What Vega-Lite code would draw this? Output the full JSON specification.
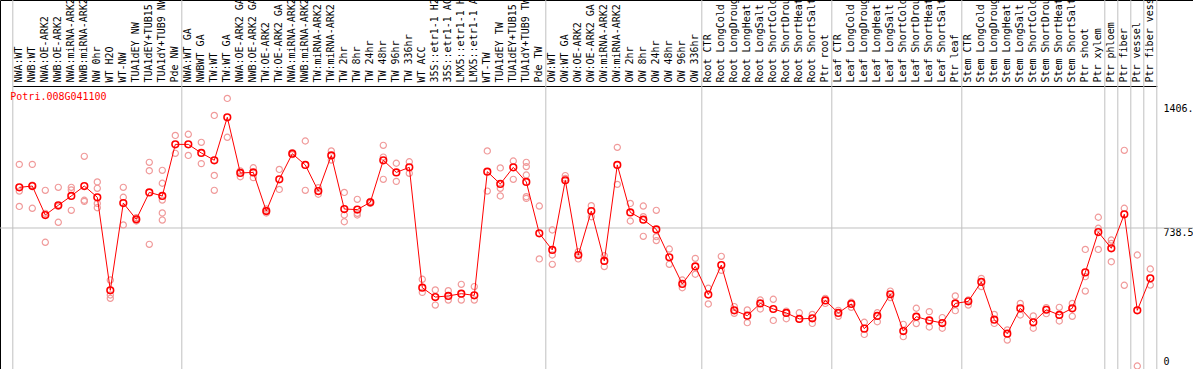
{
  "$schema": "https://vega.github.io/schema/vega-lite/v6.json",
  "width": 1193,
  "height": 369,
  "autosize": {"type": "none"},
  "padding": 0,
  "background": "white",
  "config": {"view": {"stroke": "black", "strokeWidth": 1}, "font": "DejaVu Sans Mono"},
  "datasets": {
    "seps": [
      {"c": "NWA:WT"}, {"c": "NWA:WT GA"}, {"c": "OW:WT"}, {"c": "Root CTR"}, {"c": "Leaf CTR"},
      {"c": "Stem CTR"}, {"c": "Ptr phloem"}, {"c": "Ptr fiber"}, {"c": "Ptr vessel"}, {"c": "Ptr fiber vessel"}
    ],
    "means": [
      {"c": "NWA:WT", "v": 956}, {"c": "NWB:WT", "v": 963}, {"c": "NWA:OE-ARK2", "v": 808}, {"c": "NWB:OE-ARK2", "v": 860},
      {"c": "NWA:miRNA-ARK2", "v": 910}, {"c": "NWB:miRNA-ARK2", "v": 963}, {"c": "NW 0hr", "v": 903}, {"c": "WT H2O", "v": 405},
      {"c": "WT-NW", "v": 872}, {"c": "TUA1dEY NW", "v": 785}, {"c": "TUA1dEY+TUB15 NW", "v": 929}, {"c": "TUA1dY+TUB9 NW", "v": 910},
      {"c": "Pde NW", "v": 1186},
      {"c": "NWA:WT GA", "v": 1186}, {"c": "NWBWT GA", "v": 1140}, {"c": "TW:WT", "v": 1101}, {"c": "TW:WT GA", "v": 1331},
      {"c": "NWA:OE-ARK2 GA", "v": 1033}, {"c": "NWB:OE-ARK2 GA", "v": 1036}, {"c": "TW:OE-ARK2", "v": 829}, {"c": "TW:OE-ARK2 GA", "v": 999},
      {"c": "NWA:miRNA-ARK2 GA", "v": 1136}, {"c": "NWB:miRNA-ARK2 GA", "v": 1076}, {"c": "TW:miRNA-ARK2", "v": 936}, {"c": "TW:miRNA-ARK2 GA", "v": 1127},
      {"c": "TW 2hr", "v": 840}, {"c": "TW 8hr", "v": 837}, {"c": "TW 24hr", "v": 876}, {"c": "TW 48hr", "v": 1101},
      {"c": "TW 96hr", "v": 1036}, {"c": "TW 336hr", "v": 1063}, {"c": "WT ACC", "v": 419}, {"c": "35S::etr1-1 H2O", "v": 369},
      {"c": "35S::etr1-1 ACC", "v": 375}, {"c": "LMX5::etr1-1 H2O", "v": 387}, {"c": "LMX5::etr1-1 ACC", "v": 378}, {"c": "WT-TW", "v": 1040},
      {"c": "TUA1dEY TW", "v": 974}, {"c": "TUA1dEY+TUB15 TW", "v": 1063}, {"c": "TUA1dY+TUB9 TW", "v": 985}, {"c": "Pde TW", "v": 710},
      {"c": "OW:WT", "v": 621}, {"c": "OW:WT GA", "v": 994}, {"c": "OW:OE-ARK2", "v": 594}, {"c": "OW:OE-ARK2 GA", "v": 829},
      {"c": "OW:miRNA-ARK2", "v": 562}, {"c": "OW:miRNA-ARK2 GA", "v": 1076}, {"c": "OW 2hr", "v": 822}, {"c": "OW 8hr", "v": 783},
      {"c": "OW 24hr", "v": 731}, {"c": "OW 48hr", "v": 582}, {"c": "OW 96hr", "v": 439}, {"c": "OW 336hr", "v": 533},
      {"c": "Root CTR", "v": 382}, {"c": "Root LongCold", "v": 540}, {"c": "Root LongDrought", "v": 298}, {"c": "Root LongHeat", "v": 269},
      {"c": "Root LongSalt", "v": 335}, {"c": "Root ShortCold", "v": 305}, {"c": "Root ShortDrought", "v": 284}, {"c": "Root ShortHeat", "v": 252},
      {"c": "Root ShortSalt", "v": 255}, {"c": "Ptr root", "v": 351},
      {"c": "Leaf CTR", "v": 284}, {"c": "Leaf LongCold", "v": 332}, {"c": "Leaf LongDrought", "v": 200}, {"c": "Leaf LongHeat", "v": 268},
      {"c": "Leaf LongSalt", "v": 384}, {"c": "Leaf ShortCold", "v": 187}, {"c": "Leaf ShortDrought", "v": 264}, {"c": "Leaf ShortHeat", "v": 244},
      {"c": "Leaf ShortSalt", "v": 230}, {"c": "Ptr leaf", "v": 335},
      {"c": "Stem CTR", "v": 346}, {"c": "Stem LongCold", "v": 450}, {"c": "Stem LongDrought", "v": 248}, {"c": "Stem LongHeat", "v": 173},
      {"c": "Stem LongSalt", "v": 309}, {"c": "Stem ShortCold", "v": 234}, {"c": "Stem ShortDrought", "v": 301}, {"c": "Stem ShortHeat", "v": 273},
      {"c": "Stem ShortSalt", "v": 309}, {"c": "Ptr shoot", "v": 501}, {"c": "Ptr xylem", "v": 717},
      {"c": "Ptr phloem", "v": 630}, {"c": "Ptr fiber", "v": 812}, {"c": "Ptr vessel", "v": 298}, {"c": "Ptr fiber vessel", "v": 469}
    ],
    "reps": [
      {"c": "NWA:WT", "v": 1079}, {"c": "NWA:WT", "v": 936}, {"c": "NWA:WT", "v": 854},
      {"c": "NWB:WT", "v": 1079}, {"c": "NWB:WT", "v": 967}, {"c": "NWB:WT", "v": 844},
      {"c": "NWA:OE-ARK2", "v": 940}, {"c": "NWA:OE-ARK2", "v": 817}, {"c": "NWA:OE-ARK2", "v": 662},
      {"c": "NWB:OE-ARK2", "v": 956}, {"c": "NWB:OE-ARK2", "v": 854}, {"c": "NWB:OE-ARK2", "v": 769},
      {"c": "NWA:miRNA-ARK2", "v": 956}, {"c": "NWA:miRNA-ARK2", "v": 942}, {"c": "NWA:miRNA-ARK2", "v": 833},
      {"c": "NWB:miRNA-ARK2", "v": 1122}, {"c": "NWB:miRNA-ARK2", "v": 887}, {"c": "NWB:miRNA-ARK2", "v": 881},
      {"c": "NW 0hr", "v": 985}, {"c": "NW 0hr", "v": 951}, {"c": "NW 0hr", "v": 870}, {"c": "NW 0hr", "v": 847},
      {"c": "WT H2O", "v": 460}, {"c": "WT H2O", "v": 380}, {"c": "WT H2O", "v": 362},
      {"c": "WT-NW", "v": 956}, {"c": "WT-NW", "v": 903}, {"c": "WT-NW", "v": 755},
      {"c": "TUA1dEY NW", "v": 794}, {"c": "TUA1dEY NW", "v": 785}, {"c": "TUA1dEY NW", "v": 776},
      {"c": "TUA1dEY+TUB15 NW", "v": 1090}, {"c": "TUA1dEY+TUB15 NW", "v": 1045}, {"c": "TUA1dEY+TUB15 NW", "v": 651},
      {"c": "TUA1dY+TUB9 NW", "v": 1047}, {"c": "TUA1dY+TUB9 NW", "v": 978}, {"c": "TUA1dY+TUB9 NW", "v": 888}, {"c": "TUA1dY+TUB9 NW", "v": 819}, {"c": "TUA1dY+TUB9 NW", "v": 781},
      {"c": "Pde NW", "v": 1234}, {"c": "Pde NW", "v": 1138},
      {"c": "NWA:WT GA", "v": 1240}, {"c": "NWA:WT GA", "v": 1127},
      {"c": "NWBWT GA", "v": 1197}, {"c": "NWBWT GA", "v": 1083},
      {"c": "TW:WT", "v": 1341}, {"c": "TW:WT", "v": 1020}, {"c": "TW:WT", "v": 940},
      {"c": "TW:WT GA", "v": 1432}, {"c": "TW:WT GA", "v": 1224},
      {"c": "NWA:OE-ARK2 GA", "v": 1044}, {"c": "NWA:OE-ARK2 GA", "v": 1013},
      {"c": "NWB:OE-ARK2 GA", "v": 1061}, {"c": "NWB:OE-ARK2 GA", "v": 1008},
      {"c": "TW:OE-ARK2", "v": 840}, {"c": "TW:OE-ARK2", "v": 829}, {"c": "TW:OE-ARK2", "v": 819},
      {"c": "TW:OE-ARK2 GA", "v": 1052}, {"c": "TW:OE-ARK2 GA", "v": 945},
      {"c": "NWA:miRNA-ARK2 GA", "v": 1142}, {"c": "NWA:miRNA-ARK2 GA", "v": 1131},
      {"c": "NWB:miRNA-ARK2 GA", "v": 1204}, {"c": "NWB:miRNA-ARK2 GA", "v": 940},
      {"c": "TW:miRNA-ARK2", "v": 954}, {"c": "TW:miRNA-ARK2", "v": 919},
      {"c": "TW:miRNA-ARK2 GA", "v": 1151}, {"c": "TW:miRNA-ARK2 GA", "v": 1102},
      {"c": "TW 2hr", "v": 929}, {"c": "TW 2hr", "v": 808}, {"c": "TW 2hr", "v": 772},
      {"c": "TW 8hr", "v": 892}, {"c": "TW 8hr", "v": 817}, {"c": "TW 8hr", "v": 808},
      {"c": "TW 24hr", "v": 881}, {"c": "TW 24hr", "v": 870},
      {"c": "TW 48hr", "v": 1181}, {"c": "TW 48hr", "v": 1118}, {"c": "TW 48hr", "v": 999},
      {"c": "TW 96hr", "v": 1085}, {"c": "TW 96hr", "v": 988},
      {"c": "TW 336hr", "v": 1093}, {"c": "TW 336hr", "v": 1031},
      {"c": "WT ACC", "v": 464}, {"c": "WT ACC", "v": 394},
      {"c": "35S::etr1-1 H2O", "v": 407}, {"c": "35S::etr1-1 H2O", "v": 326},
      {"c": "35S::etr1-1 ACC", "v": 403}, {"c": "35S::etr1-1 ACC", "v": 353},
      {"c": "LMX5::etr1-1 H2O", "v": 437}, {"c": "LMX5::etr1-1 H2O", "v": 353},
      {"c": "LMX5::etr1-1 ACC", "v": 425}, {"c": "LMX5::etr1-1 ACC", "v": 353},
      {"c": "WT-TW", "v": 1151}, {"c": "WT-TW", "v": 936},
      {"c": "TUA1dEY TW", "v": 1060}, {"c": "TUA1dEY TW", "v": 951}, {"c": "TUA1dEY TW", "v": 910},
      {"c": "TUA1dEY+TUB15 TW", "v": 1097}, {"c": "TUA1dEY+TUB15 TW", "v": 999},
      {"c": "TUA1dY+TUB9 TW", "v": 1090}, {"c": "TUA1dY+TUB9 TW", "v": 1067}, {"c": "TUA1dY+TUB9 TW", "v": 1022}, {"c": "TUA1dY+TUB9 TW", "v": 906}, {"c": "TUA1dY+TUB9 TW", "v": 897},
      {"c": "Pde TW", "v": 856}, {"c": "Pde TW", "v": 573},
      {"c": "OW:WT", "v": 728}, {"c": "OW:WT", "v": 594}, {"c": "OW:WT", "v": 544},
      {"c": "OW:WT GA", "v": 1019}, {"c": "OW:WT GA", "v": 1004},
      {"c": "OW:OE-ARK2", "v": 612}, {"c": "OW:OE-ARK2", "v": 573},
      {"c": "OW:OE-ARK2 GA", "v": 858}, {"c": "OW:OE-ARK2 GA", "v": 799},
      {"c": "OW:miRNA-ARK2", "v": 590}, {"c": "OW:miRNA-ARK2", "v": 532},
      {"c": "OW:miRNA-ARK2 GA", "v": 1170}, {"c": "OW:miRNA-ARK2 GA", "v": 972},
      {"c": "OW 2hr", "v": 870}, {"c": "OW 2hr", "v": 776},
      {"c": "OW 8hr", "v": 856}, {"c": "OW 8hr", "v": 799}, {"c": "OW 8hr", "v": 694},
      {"c": "OW 24hr", "v": 833}, {"c": "OW 24hr", "v": 692}, {"c": "OW 24hr", "v": 671},
      {"c": "OW 48hr", "v": 626}, {"c": "OW 48hr", "v": 544},
      {"c": "OW 96hr", "v": 460}, {"c": "OW 96hr", "v": 419},
      {"c": "OW 336hr", "v": 576}, {"c": "OW 336hr", "v": 491},
      {"c": "Root CTR", "v": 416}, {"c": "Root CTR", "v": 332},
      {"c": "Root LongCold", "v": 587}, {"c": "Root LongCold", "v": 512},
      {"c": "Root LongDrought", "v": 318}, {"c": "Root LongDrought", "v": 282},
      {"c": "Root LongHeat", "v": 300}, {"c": "Root LongHeat", "v": 232},
      {"c": "Root LongSalt", "v": 353}, {"c": "Root LongSalt", "v": 305},
      {"c": "Root ShortCold", "v": 357}, {"c": "Root ShortCold", "v": 244},
      {"c": "Root ShortDrought", "v": 294}, {"c": "Root ShortDrought", "v": 253},
      {"c": "Root ShortHeat", "v": 285}, {"c": "Root ShortHeat", "v": 252},
      {"c": "Root ShortSalt", "v": 276}, {"c": "Root ShortSalt", "v": 228},
      {"c": "Ptr root", "v": 362}, {"c": "Ptr root", "v": 335},
      {"c": "Leaf CTR", "v": 298}, {"c": "Leaf CTR", "v": 266},
      {"c": "Leaf LongCold", "v": 341}, {"c": "Leaf LongCold", "v": 314},
      {"c": "Leaf LongDrought", "v": 234}, {"c": "Leaf LongDrought", "v": 169},
      {"c": "Leaf LongHeat", "v": 285}, {"c": "Leaf LongHeat", "v": 237},
      {"c": "Leaf LongSalt", "v": 401}, {"c": "Leaf LongSalt", "v": 366},
      {"c": "Leaf ShortCold", "v": 223}, {"c": "Leaf ShortCold", "v": 157},
      {"c": "Leaf ShortDrought", "v": 309}, {"c": "Leaf ShortDrought", "v": 227},
      {"c": "Leaf ShortHeat", "v": 291}, {"c": "Leaf ShortHeat", "v": 209},
      {"c": "Leaf ShortSalt", "v": 259}, {"c": "Leaf ShortSalt", "v": 202},
      {"c": "Ptr leaf", "v": 375}, {"c": "Ptr leaf", "v": 296},
      {"c": "Stem CTR", "v": 353}, {"c": "Stem CTR", "v": 326},
      {"c": "Stem LongCold", "v": 469}, {"c": "Stem LongCold", "v": 425},
      {"c": "Stem LongDrought", "v": 276}, {"c": "Stem LongDrought", "v": 228},
      {"c": "Stem LongHeat", "v": 193}, {"c": "Stem LongHeat", "v": 139},
      {"c": "Stem LongSalt", "v": 335}, {"c": "Stem LongSalt", "v": 273},
      {"c": "Stem ShortCold", "v": 268}, {"c": "Stem ShortCold", "v": 202},
      {"c": "Stem ShortDrought", "v": 312}, {"c": "Stem ShortDrought", "v": 280},
      {"c": "Stem ShortHeat", "v": 314}, {"c": "Stem ShortHeat", "v": 241},
      {"c": "Stem ShortSalt", "v": 335}, {"c": "Stem ShortSalt", "v": 266},
      {"c": "Ptr shoot", "v": 624}, {"c": "Ptr shoot", "v": 478}, {"c": "Ptr shoot", "v": 401},
      {"c": "Ptr xylem", "v": 796}, {"c": "Ptr xylem", "v": 737}, {"c": "Ptr xylem", "v": 624},
      {"c": "Ptr phloem", "v": 674}, {"c": "Ptr phloem", "v": 656}, {"c": "Ptr phloem", "v": 558},
      {"c": "Ptr fiber", "v": 1154}, {"c": "Ptr fiber", "v": 844}, {"c": "Ptr fiber", "v": 432},
      {"c": "Ptr vessel", "v": 594}, {"c": "Ptr vessel", "v": 0},
      {"c": "Ptr fiber vessel", "v": 519}, {"c": "Ptr fiber vessel", "v": 433}
    ]
  },
  "layer": [
    {
      "data": {"name": "seps"},
      "mark": {"type": "rule", "color": "#c0c0c0", "strokeWidth": 1},
      "encoding": {"x": {"field": "c", "type": "nominal", "bandPosition": 0}}
    },
    {
      "data": {"values": [{"c": "Ptr fiber vessel"}]},
      "mark": {"type": "rule", "color": "#c0c0c0", "strokeWidth": 1},
      "encoding": {"x": {"field": "c", "type": "nominal", "bandPosition": 1}}
    },
    {
      "data": {"values": [{"g": 738.5}]},
      "mark": {"type": "rule", "color": "#c0c0c0", "strokeWidth": 1},
      "encoding": {"y": {"field": "g", "type": "quantitative"}}
    },
    {
      "data": {"name": "reps"},
      "mark": {"type": "point", "shape": "circle", "filled": false, "color": "#f09a9a", "size": 38, "strokeWidth": 1.2, "opacity": 1},
      "encoding": {
        "x": {"field": "c", "type": "nominal"},
        "y": {"field": "v", "type": "quantitative"}
      }
    },
    {
      "data": {"name": "means"},
      "mark": {"type": "line", "color": "#ff0000", "strokeWidth": 1},
      "encoding": {
        "x": {
          "field": "c", "type": "nominal", "sort": null,
          "scale": {
            "type": "band", "paddingInner": 0, "paddingOuter": 0, "range": [12.8, 1156.8],
            "domain": ["NWA:WT","NWB:WT","NWA:OE-ARK2","NWB:OE-ARK2","NWA:miRNA-ARK2","NWB:miRNA-ARK2","NW 0hr","WT H2O","WT-NW","TUA1dEY NW","TUA1dEY+TUB15 NW","TUA1dY+TUB9 NW","Pde NW","NWA:WT GA","NWBWT GA","TW:WT","TW:WT GA","NWA:OE-ARK2 GA","NWB:OE-ARK2 GA","TW:OE-ARK2","TW:OE-ARK2 GA","NWA:miRNA-ARK2 GA","NWB:miRNA-ARK2 GA","TW:miRNA-ARK2","TW:miRNA-ARK2 GA","TW 2hr","TW 8hr","TW 24hr","TW 48hr","TW 96hr","TW 336hr","WT ACC","35S::etr1-1 H2O","35S::etr1-1 ACC","LMX5::etr1-1 H2O","LMX5::etr1-1 ACC","WT-TW","TUA1dEY TW","TUA1dEY+TUB15 TW","TUA1dY+TUB9 TW","Pde TW","OW:WT","OW:WT GA","OW:OE-ARK2","OW:OE-ARK2 GA","OW:miRNA-ARK2","OW:miRNA-ARK2 GA","OW 2hr","OW 8hr","OW 24hr","OW 48hr","OW 96hr","OW 336hr","Root CTR","Root LongCold","Root LongDrought","Root LongHeat","Root LongSalt","Root ShortCold","Root ShortDrought","Root ShortHeat","Root ShortSalt","Ptr root","Leaf CTR","Leaf LongCold","Leaf LongDrought","Leaf LongHeat","Leaf LongSalt","Leaf ShortCold","Leaf ShortDrought","Leaf ShortHeat","Leaf ShortSalt","Ptr leaf","Stem CTR","Stem LongCold","Stem LongDrought","Stem LongHeat","Stem LongSalt","Stem ShortCold","Stem ShortDrought","Stem ShortHeat","Stem ShortSalt","Ptr shoot","Ptr xylem","Ptr phloem","Ptr fiber","Ptr vessel","Ptr fiber vessel"]
          },
          "axis": {
            "orient": "top", "offset": -86, "title": null,
            "domain": true, "domainColor": "black", "domainWidth": 1,
            "ticks": false, "tickSize": 0, "grid": false,
            "labelAngle": -90, "labelAlign": "left", "labelBaseline": "middle",
            "labelPadding": 4, "labelFont": "DejaVu Sans Mono", "labelFontSize": 10, "labelColor": "black",
            "labelOverlap": false, "labelBound": false, "labelLimit": 0
          }
        },
        "y": {
          "field": "v", "type": "quantitative",
          "scale": {"domain": [-16.05, 1958.6], "nice": false, "zero": false},
          "axis": {
            "orient": "right", "offset": -30, "title": null,
            "values": [0, 738.5, 1406],
            "domain": false, "ticks": false, "tickSize": 0, "labelPadding": 0,
            "labelAlign": "left",
            "labelBaseline": {"condition": {"test": "datum.value == 0", "value": "bottom"}, "value": "top"},
            "labelExpr": "datum.value == 0 ? '0' : (datum.value == 738.5 ? '738.5' : '1406.')",
            "labelFont": "DejaVu Sans Mono", "labelFontSize": 10, "labelColor": "black",
            "grid": false
          }
        }
      }
    },
    {
      "data": {"name": "means"},
      "mark": {"type": "point", "shape": "circle", "filled": false, "color": "#ff0000", "size": 44, "strokeWidth": 1.6, "opacity": 1},
      "encoding": {
        "x": {"field": "c", "type": "nominal"},
        "y": {"field": "v", "type": "quantitative"}
      }
    },
    {
      "data": {"values": [{"gene": "Potri.008G041100"}]},
      "mark": {"type": "text", "color": "#ff0000", "align": "left", "baseline": "middle", "dx": -9, "font": "DejaVu Sans Mono", "fontSize": 10},
      "encoding": {
        "x": {"datum": "NWA:WT"},
        "y": {"datum": 1440},
        "text": {"field": "gene"}
      }
    }
  ]
}
